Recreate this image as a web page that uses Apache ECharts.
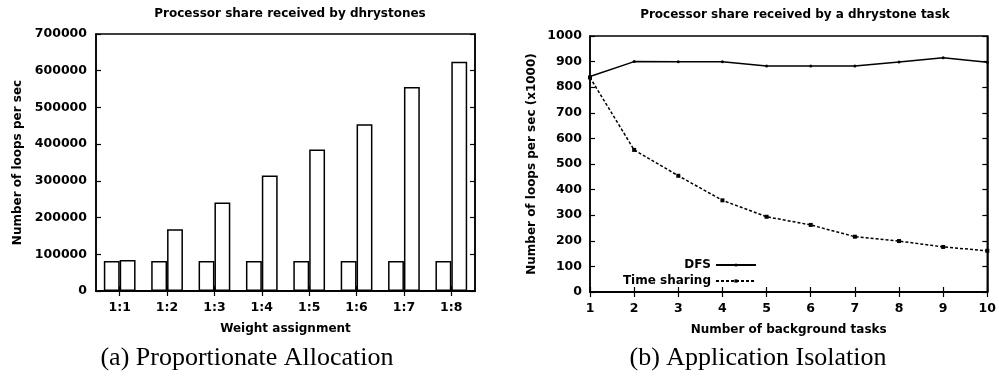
<!DOCTYPE html>
<html><head><meta charset="utf-8">
<script src="https://cdn.jsdelivr.net/npm/echarts@6/dist/echarts.min.js"></script>
<style>html,body{margin:0;padding:0;background:#fff}#c{width:999px;height:377px}</style>
</head><body><div id="c"></div>
<script>
const weightCats = ['1:1','1:2','1:3','1:4','1:5','1:6','1:7','1:8'];
const baseTask = [81800, 81800, 81800, 81800, 81800, 81800, 81800, 81800];
const weightedTask = [84500, 168000, 241000, 314500, 385500, 454500, 555500, 624500];
const bgTasks = [1,2,3,4,5,6,7,8,9,10];
const dfs = [842, 900, 899, 899, 883, 883, 883, 898, 915, 897];
const timeSharing = [838, 555, 454, 358, 294, 262, 216, 199, 176, 161];

const F = 'DejaVu Sans';
const plain = v => String(v);
const tickLbl = {fontFamily: F, fontWeight: 'bold', fontSize: 12.5, color: '#000', formatter: plain};
const axLine = {show: true, lineStyle: {color: '#000', width: 1.5}};
const inTick = {show: true, inside: true, length: 5, lineStyle: {color: '#000', width: 1.2}};
const nameStyle = {fontFamily: F, fontWeight: 'bold', fontSize: 12, color: '#000'};

const chart = echarts.init(document.getElementById('c'), null, {renderer: 'canvas'});
chart.setOption({
  animation: false,
  backgroundColor: '#fff',
  title: [
    {text: 'Processor share received by dhrystones', left: 285, top: 3, textAlign: 'center',
     textStyle: {fontFamily: F, fontWeight: 'bold', fontSize: 12, color: '#000'}},
    {text: 'Processor share received by a dhrystone task', left: 790, top: 4, textAlign: 'center',
     textStyle: {fontFamily: F, fontWeight: 'bold', fontSize: 12, color: '#000'}},
    {text: '(a) Proportionate Allocation', left: 242, top: 340, textAlign: 'center',
     textStyle: {fontFamily: 'Liberation Serif', fontWeight: 'normal', fontSize: 26, color: '#000'}},
    {text: '(b) Application Isolation', left: 753, top: 340, textAlign: 'center',
     textStyle: {fontFamily: 'Liberation Serif', fontWeight: 'normal', fontSize: 26, color: '#000'}}
  ],
  legend: {
    data: ['DFS', 'Time sharing'], orient: 'vertical', align: 'right',
    right: 237, top: 254, itemWidth: 40, itemHeight: 4, itemGap: 4,
    textStyle: {fontFamily: F, fontWeight: 'bold', fontSize: 12, color: '#000'}
  },
  grid: [
    {left: 96, top: 34, width: 379, height: 257, show: true, borderColor: '#000', borderWidth: 1.5, backgroundColor: 'transparent'},
    {left: 590, top: 36, width: 399, height: 256, show: true, borderColor: '#000', borderWidth: 1.5, backgroundColor: 'transparent'}
  ],
  xAxis: [
    {type: 'category', gridIndex: 0, data: weightCats, axisLine: axLine,
     axisTick: Object.assign({alignWithLabel: true}, inTick), axisLabel: Object.assign({}, tickLbl, {margin: 10, formatter: null}),
     name: 'Weight assignment', nameLocation: 'middle', nameGap: 32, nameTextStyle: nameStyle},
    {type: 'category', gridIndex: 0, position: 'top', data: weightCats, axisLine: axLine,
     axisTick: Object.assign({alignWithLabel: true}, inTick), axisLabel: {show: false}},
    {type: 'value', gridIndex: 1, min: 1, max: 10, interval: 1, axisLine: axLine, axisTick: inTick,
     axisLabel: Object.assign({}, tickLbl, {margin: 10}), splitLine: {show: false},
     name: 'Number of background tasks', nameLocation: 'middle', nameGap: 32, nameTextStyle: nameStyle},
    {type: 'value', gridIndex: 1, position: 'top', min: 1, max: 10, interval: 1, axisLine: axLine, axisTick: inTick,
     axisLabel: {show: false}, splitLine: {show: false}}
  ],
  yAxis: [
    {type: 'value', gridIndex: 0, min: 0, max: 700000, interval: 100000, axisLine: axLine, axisTick: inTick,
     axisLabel: Object.assign({}, tickLbl, {margin: 9}), splitLine: {show: false},
     name: 'Number of loops per sec', nameLocation: 'middle', nameGap: 72, nameTextStyle: nameStyle},
    {type: 'value', gridIndex: 0, position: 'right', min: 0, max: 700000, interval: 100000, axisLine: axLine, axisTick: inTick,
     axisLabel: {show: false}, splitLine: {show: false}},
    {type: 'value', gridIndex: 1, min: 0, max: 1000, interval: 100, axisLine: axLine, axisTick: inTick,
     axisLabel: Object.assign({}, tickLbl, {margin: 8}), splitLine: {show: false},
     name: 'Number of loops per sec (x1000)', nameLocation: 'middle', nameGap: 52, nameTextStyle: nameStyle},
    {type: 'value', gridIndex: 1, position: 'right', min: 0, max: 1000, interval: 100, axisLine: axLine, axisTick: inTick,
     axisLabel: {show: false}, splitLine: {show: false}}
  ],
  series: [
    {name: 'Base task', type: 'bar', xAxisIndex: 0, yAxisIndex: 0, data: baseTask,
     barGap: '0%', barCategoryGap: '33%',
     itemStyle: {color: '#fff', borderColor: '#000', borderWidth: 1.5}},
    {name: 'Weighted task', type: 'bar', xAxisIndex: 0, yAxisIndex: 0, data: weightedTask,
     barGap: '0%', barCategoryGap: '33%',
     itemStyle: {color: '#fff', borderColor: '#000', borderWidth: 1.5}},
    {name: 'DFS', type: 'line', xAxisIndex: 2, yAxisIndex: 2,
     data: bgTasks.map((x, i) => [x, dfs[i]]),
     symbol: 'circle', symbolSize: 3, showSymbol: true,
     lineStyle: {color: '#000', width: 1.5, type: 'solid'}, itemStyle: {color: '#000'}},
    {name: 'Time sharing', type: 'line', xAxisIndex: 2, yAxisIndex: 2,
     data: bgTasks.map((x, i) => [x, timeSharing[i]]),
     symbol: 'rect', symbolSize: 4, showSymbol: true,
     lineStyle: {color: '#000', width: 1.5, type: [3, 2]}, itemStyle: {color: '#000'}}
  ]
});
</script></body></html>
